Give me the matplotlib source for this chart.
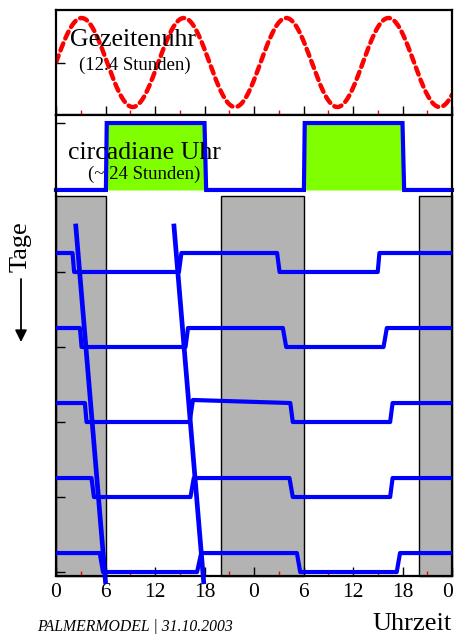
import matplotlib
matplotlib.use("Agg")
import matplotlib.pyplot as plt
import matplotlib.transforms as mtransforms
import numpy as np
from matplotlib.ticker import FixedLocator

plt.rcParams['font.family'] = ['Liberation Serif', 'DejaVu Serif']

# ---------------- data ----------------
hours_total = 48
major_ticks = [0, 6, 12, 18, 24, 30, 36, 42, 48]
major_labels = ['0', '6', '12', '18', '0', '6', '12', '18', '0']
minor_ticks = [3, 9, 15, 21, 27, 33, 39, 45]

# tidal clock (12.4 h)
tide_period_h = 12.4
tide_amplitude = 1.0

# circadian clock (~24 h): hour, state
circ_x = [0, 6.05, 6.15, 18.0, 18.2, 30.05, 30.15, 42.0, 42.2, 48]
circ_y = [0, 0, 1, 1, 0, 0, 1, 1, 0, 0]

# dark phases (gray)
dark_start = [0, 20, 44]
dark_end = [6, 30, 48]

# actogram rows (days): hour of each vertex and state (1 = high)
days = [1, 2, 3, 4, 5]
row_x = [
    [0, 2.0, 2.2, 14.9, 15.2, 26.8, 27.1, 39.0, 39.2, 48],
    [0, 2.9, 3.1, 15.7, 16.0, 27.5, 27.9, 39.7, 40.1, 48],
    [0, 3.5, 3.7, 16.2, 16.6, 28.4, 28.7, 40.5, 40.8, 48],
    [0, 4.3, 4.6, 16.3, 16.7, 28.3, 28.7, 40.5, 40.8, 48],
    [0, 5.3, 5.7, 17.1, 17.6, 29.2, 29.6, 41.3, 41.7, 48],
]
row_state = [
    [1, 1, 0, 0, 1, 1, 0, 0, 1, 1],
    [1, 1, 0, 0, 1, 1, 0, 0, 1, 1],
    [1, 1, 0, 0, 1.16, 1, 0, 0, 1, 1],
    [1, 1, 0, 0, 1, 1, 0, 0, 1, 1],
    [1, 1, 0, 0, 1, 1, 0, 0, 1, 1],
]
step_height = 0.253

# drift lines (onset / offset)
onset_x = [2.4, 6.0]
offset_x = [14.3, 17.9]
drift_y = [0.387, 5.13]

# ---------------- figure ----------------
W, H = 455, 634
fig = plt.figure(figsize=(W / 100, H / 100), dpi=100)


def rect(x0, y0, x1, y1):
    return [x0 / W, 1 - y1 / H, (x1 - x0) / W, (y1 - y0) / H]


ax_tide = fig.add_axes(rect(56, 10, 452, 115))
ax_circ = fig.add_axes(rect(56, 115, 452, 196))
ax_main = fig.add_axes(rect(56, 196, 452, 576))

BLUE = '#0000ff'
RED = '#ff0000'
GREEN = '#80ff00'
GRAY = '#b3b3b3'


def style_axes(ax, xticks_labels=False):
    ax.set_xlim(0, hours_total)
    ax.xaxis.set_major_locator(FixedLocator(major_ticks))
    ax.xaxis.set_minor_locator(FixedLocator(minor_ticks))
    ax.tick_params(axis='x', which='major', direction='in', length=6.5,
                   width=1, color='black', top=False, bottom=True,
                   labelbottom=xticks_labels, labelsize=15.5, pad=5)
    ax.tick_params(axis='x', which='minor', direction='in', length=3.5,
                   width=1, color=RED, top=False, bottom=True)
    ax.tick_params(axis='y', which='major', direction='in', length=6.5,
                   width=1, color='black', left=True, right=False,
                   labelleft=False)
    for s in ax.spines.values():
        s.set_linewidth(1.6)


# --- tide panel ---
t = np.linspace(0, hours_total, 1200)
tide = tide_amplitude * np.sin(2 * np.pi * t / tide_period_h)
ax_tide.plot(t, tide, color=RED, lw=3.2, linestyle=(0, (1.7, 1.2)),
             dash_capstyle='round')
ax_tide.set_ylim(-1.18, 1.18)
style_axes(ax_tide)
ax_tide.set_yticks([0])
ax_tide.text(9.3, 0.38, 'Gezeitenuhr', fontsize=18.5, ha='center',
             va='baseline')
ax_tide.text(9.6, -0.16, '(12.4 Stunden)', fontsize=13.5, ha='center',
             va='baseline')

# --- circadian panel ---
ax_circ.fill_between(circ_x, circ_y, 0, color=GREEN, lw=0)
ax_circ.plot(circ_x, circ_y, color=BLUE, lw=3, solid_joinstyle='miter',
             clip_on=False)
ax_circ.set_ylim(-0.09, 1.12)
style_axes(ax_circ)
ax_circ.spines['bottom'].set_visible(False)
ax_circ.tick_params(axis='x', which='both', bottom=False)
ax_circ.set_yticks([1])
ax_circ.text(10.7, 0.47, 'circadiane Uhr', fontsize=18.5, ha='center',
             va='baseline')
ax_circ.text(10.7, 0.165, '(~ 24 Stunden)', fontsize=13.5, ha='center',
             va='baseline')

# --- main actogram panel ---
for a, b in zip(dark_start, dark_end):
    ax_main.axvspan(a, b, ymin=0, ymax=1, facecolor=GRAY, edgecolor='black',
                    lw=1, clip_on=False, zorder=1)
for d, xs, st in zip(days, row_x, row_state):
    ys = [d - step_height * s for s in st]
    ax_main.plot(xs, ys, color=BLUE, lw=3, zorder=3)
ax_main.plot(onset_x, drift_y, color=BLUE, lw=3.4, zorder=4, clip_on=False)
ax_main.plot(offset_x, drift_y, color=BLUE, lw=3.4, zorder=4, clip_on=False)
ax_main.set_ylim(5.053, -0.013)
style_axes(ax_main, xticks_labels=True)
ax_main.set_xticklabels(major_labels)
ax_main.set_yticks(days)
ax_main.spines['top'].set_visible(False)
xlabels = ax_main.get_xticklabels()
last = xlabels[-1]
last.set_transform(last.get_transform() +
                   mtransforms.ScaledTranslation(-4 / 100, 0,
                                                 fig.dpi_scale_trans))

# --- outer labels ---
fig.text(21 / W, 1 - 247 / H, 'Tage', fontsize=19, rotation=90,
         ha='center', va='center')
fig.add_artist(matplotlib.patches.FancyArrowPatch(
    (21 / W, 1 - 279 / H), (21 / W, 1 - 342 / H),
    transform=fig.transFigure, arrowstyle='-|>,head_length=7,head_width=3.5',
    color='black', lw=1.3, shrinkA=0, shrinkB=0, mutation_scale=1))
fig.text(452 / W, 1 - 630 / H, 'Uhrzeit', fontsize=19, ha='right',
         va='baseline')
fig.text(37 / W, 1 - 631 / H, 'PALMERMODEL | 31.10.2003', fontsize=11.3,
         style='italic', ha='left', va='baseline')

fig.savefig('out.png', dpi=100)
